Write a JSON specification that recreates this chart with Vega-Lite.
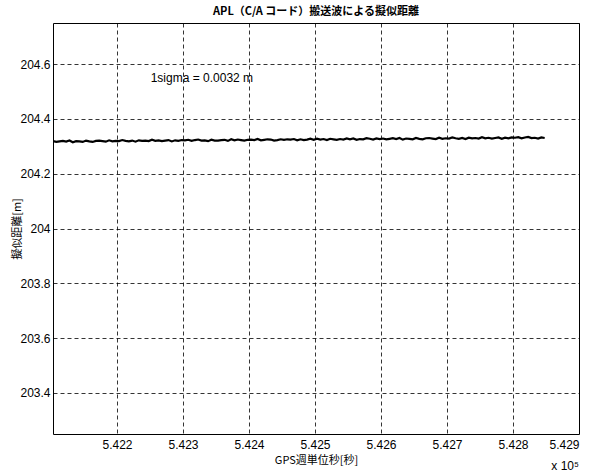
{
  "$schema": "https://vega.github.io/schema/vega-lite/v6.json",
  "width": 526,
  "height": 411,
  "autosize": {"type": "none"},
  "padding": {"left": 53, "top": 23, "right": 21, "bottom": 40},
  "background": "white",
  "title": {
    "text": "APL（C/A コード）搬送波による擬似距離",
    "font": "Noto Sans CJK JP",
    "fontSize": 11,
    "fontWeight": "bold",
    "color": "black",
    "offset": 6
  },
  "config": {
    "view": {"stroke": "black", "strokeWidth": 1},
    "axis": {
      "labelFont": "Liberation Sans",
      "labelFontSize": 12,
      "labelColor": "black",
      "titleFont": "Noto Sans CJK JP",
      "titleFontSize": 11,
      "titleFontWeight": "normal",
      "titleColor": "black",
      "grid": true,
      "gridColor": "black",
      "gridOpacity": 1,
      "gridWidth": 0.8,
      "gridDash": [4, 3],
      "ticks": false,
      "domain": false
    }
  },
  "layer": [
    {
      "data": {
        "values": [
          {"t": 542103, "r": 204.319}, {"t": 542108, "r": 204.316}, {"t": 542113, "r": 204.318}, {"t": 542118, "r": 204.320}, {"t": 542123, "r": 204.317},
          {"t": 542128, "r": 204.321}, {"t": 542133, "r": 204.315}, {"t": 542138, "r": 204.319}, {"t": 542143, "r": 204.318}, {"t": 542148, "r": 204.316},
          {"t": 542153, "r": 204.3209}, {"t": 542158, "r": 204.3179}, {"t": 542163, "r": 204.3159}, {"t": 542168, "r": 204.3199}, {"t": 542173, "r": 204.3209},
          {"t": 542178, "r": 204.3189}, {"t": 542183, "r": 204.3169}, {"t": 542188, "r": 204.3219}, {"t": 542193, "r": 204.3179}, {"t": 542198, "r": 204.3199},
          {"t": 542203, "r": 204.3189}, {"t": 542208, "r": 204.3229}, {"t": 542213, "r": 204.3199}, {"t": 542218, "r": 204.3179}, {"t": 542223, "r": 204.3209},
          {"t": 542228, "r": 204.3169}, {"t": 542233, "r": 204.3219}, {"t": 542238, "r": 204.3199}, {"t": 542243, "r": 204.3209}, {"t": 542248, "r": 204.3189},
          {"t": 542253, "r": 204.3238}, {"t": 542258, "r": 204.3198}, {"t": 542263, "r": 204.3218}, {"t": 542268, "r": 204.3188}, {"t": 542273, "r": 204.3208},
          {"t": 542278, "r": 204.3228}, {"t": 542283, "r": 204.3178}, {"t": 542288, "r": 204.3218}, {"t": 542293, "r": 204.3198}, {"t": 542298, "r": 204.3228},
          {"t": 542303, "r": 204.3218}, {"t": 542308, "r": 204.3238}, {"t": 542313, "r": 204.3198}, {"t": 542318, "r": 204.3228}, {"t": 542323, "r": 204.3248},
          {"t": 542328, "r": 204.3208}, {"t": 542333, "r": 204.3218}, {"t": 542338, "r": 204.3188}, {"t": 542343, "r": 204.3238}, {"t": 542348, "r": 204.3208},
          {"t": 542353, "r": 204.3207}, {"t": 542358, "r": 204.3227}, {"t": 542363, "r": 204.3237}, {"t": 542368, "r": 204.3197}, {"t": 542373, "r": 204.3257},
          {"t": 542378, "r": 204.3217}, {"t": 542383, "r": 204.3247}, {"t": 542388, "r": 204.3227}, {"t": 542393, "r": 204.3207}, {"t": 542398, "r": 204.3237},
          {"t": 542403, "r": 204.3246}, {"t": 542408, "r": 204.3226}, {"t": 542413, "r": 204.3266}, {"t": 542418, "r": 204.3216}, {"t": 542423, "r": 204.3236},
          {"t": 542428, "r": 204.3256}, {"t": 542433, "r": 204.3246}, {"t": 542438, "r": 204.3206}, {"t": 542443, "r": 204.3226}, {"t": 542448, "r": 204.3256},
          {"t": 542453, "r": 204.3236}, {"t": 542458, "r": 204.3256}, {"t": 542463, "r": 204.3246}, {"t": 542468, "r": 204.3266}, {"t": 542473, "r": 204.3216},
          {"t": 542478, "r": 204.3256}, {"t": 542483, "r": 204.3226}, {"t": 542488, "r": 204.3246}, {"t": 542493, "r": 204.3276}, {"t": 542498, "r": 204.3236},
          {"t": 542503, "r": 204.3275}, {"t": 542508, "r": 204.3245}, {"t": 542513, "r": 204.3265}, {"t": 542518, "r": 204.3225}, {"t": 542523, "r": 204.3275},
          {"t": 542528, "r": 204.3255}, {"t": 542533, "r": 204.3235}, {"t": 542538, "r": 204.3265}, {"t": 542543, "r": 204.3245}, {"t": 542548, "r": 204.3285},
          {"t": 542553, "r": 204.3255}, {"t": 542558, "r": 204.3285}, {"t": 542563, "r": 204.3235}, {"t": 542568, "r": 204.3265}, {"t": 542573, "r": 204.3255},
          {"t": 542578, "r": 204.3295}, {"t": 542583, "r": 204.3275}, {"t": 542588, "r": 204.3245}, {"t": 542593, "r": 204.3285}, {"t": 542598, "r": 204.3265},
          {"t": 542603, "r": 204.3284}, {"t": 542608, "r": 204.3254}, {"t": 542613, "r": 204.3274}, {"t": 542618, "r": 204.3294}, {"t": 542623, "r": 204.3264},
          {"t": 542628, "r": 204.3304}, {"t": 542633, "r": 204.3244}, {"t": 542638, "r": 204.3284}, {"t": 542643, "r": 204.3274}, {"t": 542648, "r": 204.3254},
          {"t": 542653, "r": 204.3303}, {"t": 542658, "r": 204.3273}, {"t": 542663, "r": 204.3253}, {"t": 542668, "r": 204.3293}, {"t": 542673, "r": 204.3303},
          {"t": 542678, "r": 204.3283}, {"t": 542683, "r": 204.3263}, {"t": 542688, "r": 204.3313}, {"t": 542693, "r": 204.3273}, {"t": 542698, "r": 204.3293},
          {"t": 542703, "r": 204.3283}, {"t": 542708, "r": 204.3323}, {"t": 542713, "r": 204.3293}, {"t": 542718, "r": 204.3273}, {"t": 542723, "r": 204.3303},
          {"t": 542728, "r": 204.3263}, {"t": 542733, "r": 204.3313}, {"t": 542738, "r": 204.3293}, {"t": 542743, "r": 204.3303}, {"t": 542748, "r": 204.3283},
          {"t": 542753, "r": 204.3332}, {"t": 542758, "r": 204.3292}, {"t": 542763, "r": 204.3312}, {"t": 542768, "r": 204.3282}, {"t": 542773, "r": 204.3302},
          {"t": 542778, "r": 204.3322}, {"t": 542783, "r": 204.3272}, {"t": 542788, "r": 204.3312}, {"t": 542793, "r": 204.3292}, {"t": 542798, "r": 204.3322},
          {"t": 542803, "r": 204.3312}, {"t": 542808, "r": 204.3332}, {"t": 542813, "r": 204.3292}, {"t": 542818, "r": 204.3322}, {"t": 542823, "r": 204.3342},
          {"t": 542828, "r": 204.3302}, {"t": 542833, "r": 204.3312}, {"t": 542838, "r": 204.3282}, {"t": 542843, "r": 204.3322}, {"t": 542848, "r": 204.3302}
        ]
      },
      "mark": {"type": "line", "color": "black", "strokeWidth": 2.2, "clip": true},
      "encoding": {
        "x": {
          "field": "t",
          "type": "quantitative",
          "scale": {"domain": [542103, 542900], "nice": false, "zero": false},
          "axis": {
            "title": "GPS週単位秒[秒]",
            "values": [542200, 542300, 542400, 542500, 542600, 542700, 542800, 542900],
            "labelExpr": "format(datum.value / 100000, '.3f')",
            "labelPadding": 5,
            "titlePadding": 4
          }
        },
        "y": {
          "field": "r",
          "type": "quantitative",
          "scale": {"domain": [203.25, 204.75], "nice": false, "zero": false},
          "axis": {
            "title": "擬似距離[m]",
            "values": [203.4, 203.6, 203.8, 204, 204.2, 204.4, 204.6],
            "format": ".1~f",
            "labelPadding": 3,
            "titlePadding": -3
          }
        }
      }
    },
    {
      "data": {"values": [{"t": 542251, "r": 204.549, "label": "1sigma = 0.0032 m"}]},
      "mark": {"type": "text", "align": "left", "baseline": "middle", "font": "Liberation Sans", "fontSize": 12, "color": "black"},
      "encoding": {
        "x": {"field": "t", "type": "quantitative"},
        "y": {"field": "r", "type": "quantitative"},
        "text": {"field": "label"}
      }
    },
    {
      "data": {"values": [{"t": 542900, "r": 203.25, "label": "x 10⁵"}]},
      "mark": {"type": "text", "align": "right", "baseline": "middle", "font": "Liberation Sans", "fontSize": 12, "color": "black", "dy": 32},
      "encoding": {
        "x": {"field": "t", "type": "quantitative"},
        "y": {"field": "r", "type": "quantitative"},
        "text": {"field": "label"}
      }
    }
  ]
}
